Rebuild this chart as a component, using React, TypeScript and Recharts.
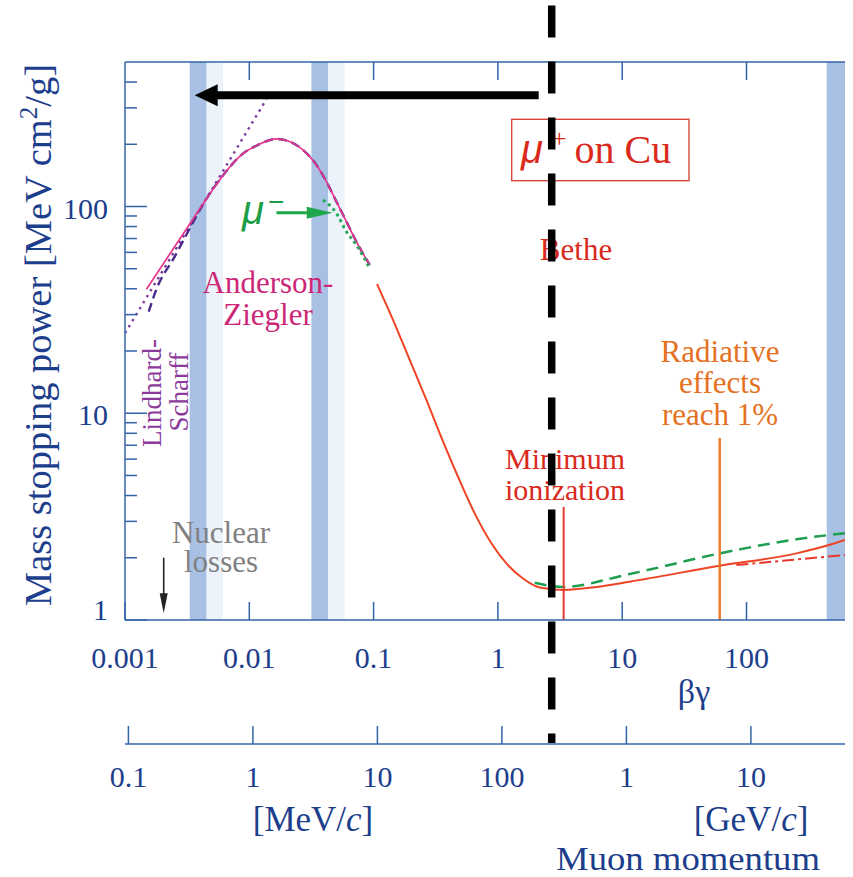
import React from "react";
import {
  LineChart,
  Line,
  XAxis,
  YAxis,
  ReferenceArea,
  ReferenceLine,
} from "recharts";

const W = 853;
const H = 877;
const SERIF = "'Liberation Serif', 'DejaVu Serif', serif";
const SANS = "'Liberation Sans', 'DejaVu Sans', sans-serif";
const AXIS = "#3464a8";
const TXT = "#1d3e8c";

// axis ticks
const bgTicks = [0.001, 0.01, 0.1, 1, 10, 100];
const bgTickLabels = ["0.001", "0.01", "0.1", "1", "10", "100"];
const topTicks = [0.01, 0.1, 1, 10, 100];
const momTicks = [0.1, 1, 10, 100, 1000, 10000]; // MeV/c
const momTickLabels = ["0.1", "1", "10", "100", "1", "10"];
const yTicks = [
  1, 2, 3, 4, 5, 6, 7, 8, 9, 10, 20, 30, 40, 50, 60, 70, 80, 90, 100, 200,
  300, 400,
];
const yMajor = [1, 10, 100];

// shaded bands (βγ ranges)
const bandDark = [
  [0.003316, 0.004518],
  [0.0316, 0.043],
  [441.6, 620],
];
const bandLight = [
  [0.004518, 0.00614],
  [0.043, 0.0586],
];

// Bethe (μ+ on Cu)
const betheBG = [
  0.1065, 0.1433, 0.1952, 0.266, 0.3577, 0.4775, 0.6506, 0.8866, 1.171, 1.592,
  2.169, 3.34, 6.2, 11.49, 60.9, 252, 467, 620,
];
const betheVal = [
  42.2, 28.3, 18.1, 11.6, 7.43, 4.93, 3.28, 2.35, 1.877, 1.588, 1.436, 1.397,
  1.445, 1.532, 1.831, 2.1, 2.31, 2.44,
];

// Anderson-Ziegler
const azBG = [
  0.001487, 0.002217, 0.003211, 0.004652, 0.006341, 0.008637, 0.01175, 0.01652,
  0.02113, 0.02704, 0.03466, 0.04173, 0.05022, 0.06044, 0.07271, 0.09303,
];
const azVal = [
  39.8, 57.2, 79.9, 111.7, 144.9, 177.7, 198.6, 212.3, 206.1, 187.8, 158.9,
  131.9, 105.6, 84.5, 67.6, 52.2,
];

// dashed purple fit
const fitBG = [
  0.001551, 0.001789, 0.002511, 0.003377, 0.004218, 0.006341, 0.008637,
  0.01175, 0.01652, 0.02113, 0.02704, 0.03466, 0.04173, 0.05022, 0.06044,
  0.07271, 0.09303,
];
const fitVal = [
  31.0, 39.8, 57.2, 79.9, 101.8, 144.9, 177.7, 198.6, 212.3, 206.1, 187.8,
  158.9, 131.9, 105.6, 84.5, 67.6, 52.2,
];

// Lindhard-Scharff (dotted)
const lsBG = [0.001, 0.01373];
const lsVal = [24.4, 330.4];

// μ- (green dotted)
const muBG = [0.0392, 0.05022, 0.06044, 0.07271, 0.093];
const muVal = [107.6, 92.8, 75.6, 65.2, 50.3];

// without δ (green dashed)
const noDeltaBG = [1.977, 3.3, 11.49, 60.9, 252, 620];
const noDeltaVal = [1.515, 1.445, 1.669, 2.1, 2.457, 2.63];

// red dash-dot
const dashDotBG = [82.9, 620];
const dashDotVal = [1.845, 2.063];

// markers
const minIon = { x: 3.38, top: 3.52 };
const radiative = { x: 60.9, top: 7.6 };
const blackLineX = 2.709;
const blackLineY = [937.6, 0.254];
const bigArrow = { from: 2.129, to: 0.003637, y: 344.8 };
const muArrow = { from: 0.01652, to: 0.0469, y: 93.4 };
const nuclearArrow = { x: 0.002048, from: 2.0, to: 1.077 };

const toPts = (xs: number[], ys: number[]) =>
  xs.map((x, i) => ({ x, y: ys[i] }));

// invisible anchors so the extra axes get their ticks
const momAnchor = momTicks.map((x) => ({ x, y: 1 }));
const topAnchor = topTicks.map((x) => ({ x, y: 1 }));

const near = (a: number, b: number) => Math.abs(a - b) / b < 1e-6;

const BgTick = (props: any) => {
  const { x, y, payload } = props;
  const i = bgTicks.findIndex((t) => near(payload.value, t));
  return (
    <g>
      <line x1={x} x2={x} y1={y} y2={y - 18} stroke={AXIS} strokeWidth={1.5} />
      <text x={x} y={y + 48} textAnchor="middle" fontSize={30} fill={TXT} fontFamily={SERIF}>
        {bgTickLabels[i]}
      </text>
    </g>
  );
};

const MomTick = (props: any) => {
  const { x, y, payload } = props;
  const i = momTicks.findIndex((t) => near(payload.value, t));
  return (
    <g>
      <line x1={x} x2={x} y1={y} y2={y - 18} stroke={AXIS} strokeWidth={1.5} />
      <text x={x} y={y + 43} textAnchor="middle" fontSize={30} fill={TXT} fontFamily={SERIF}>
        {momTickLabels[i]}
      </text>
    </g>
  );
};

const TopTick = (props: any) => {
  const { x, y } = props;
  return <line x1={x} x2={x} y1={y} y2={y + 18} stroke={AXIS} strokeWidth={1.5} />;
};

const VTick = (props: any) => {
  const { x, y, payload } = props;
  const v = payload.value;
  const major = yMajor.some((m) => near(v, m));
  return (
    <g>
      <line x1={x} x2={x + (major ? 22 : 12)} y1={y} y2={y} stroke={AXIS} strokeWidth={1.5} />
      {major && (
        <text
          x={x - 17}
          y={y + (near(v, 1) ? 0 : 12)}
          textAnchor="end"
          fontSize={30}
          fill={TXT}
          fontFamily={SERIF}
        >
          {v}
        </text>
      )}
    </g>
  );
};

const axes = (show: boolean) => [
  <XAxis
    key="bg"
    xAxisId="bg"
    dataKey="x"
    type="number"
    scale="log"
    domain={[0.001, 620]}
    allowDataOverflow
    ticks={bgTicks}
    interval={0}
    height={124}
    tickSize={0}
    tickMargin={0}
    tickLine={false}
    axisLine={show ? { stroke: AXIS, strokeWidth: 1.5 } : false}
    tick={show ? BgTick : false}
  />,
  <XAxis
    key="mom"
    xAxisId="mom"
    dataKey="x"
    type="number"
    scale="log"
    domain={[0.0939, 57000]}
    allowDataOverflow
    ticks={momTicks}
    interval={0}
    height={133}
    tickSize={0}
    tickMargin={0}
    tickLine={false}
    axisLine={show ? { stroke: AXIS, strokeWidth: 1.5 } : false}
    tick={show ? MomTick : false}
  />,
  <XAxis
    key="top"
    xAxisId="top"
    dataKey="x"
    orientation="top"
    type="number"
    scale="log"
    domain={[0.001, 620]}
    allowDataOverflow
    ticks={topTicks}
    interval={0}
    height={62}
    tickSize={0}
    tickMargin={0}
    tickLine={false}
    axisLine={show ? { stroke: AXIS, strokeWidth: 1.5 } : false}
    tick={show ? TopTick : false}
  />,
  <YAxis
    key="v"
    yAxisId="v"
    type="number"
    scale="log"
    domain={[1, 500]}
    allowDataOverflow
    ticks={yTicks}
    interval={0}
    width={125}
    tickSize={0}
    tickMargin={0}
    tickLine={false}
    axisLine={show ? { stroke: AXIS, strokeWidth: 1.5 } : false}
    tick={show ? VTick : false}
  />,
  <Line key="am" xAxisId="mom" yAxisId="v" data={momAnchor} dataKey="y" stroke="none" dot={false} activeDot={false} isAnimationActive={false} />,
  <Line key="at" xAxisId="top" yAxisId="v" data={topAnchor} dataKey="y" stroke="none" dot={false} activeDot={false} isAnimationActive={false} />,
];

const arrowShape =
  (color: string, width: number, headLen: number, headHalf: number) =>
  (p: any) => {
    const { x1, y1, x2, y2 } = p;
    const dx = x2 - x1;
    const dy = y2 - y1;
    const len = Math.hypot(dx, dy) || 1;
    const ux = dx / len;
    const uy = dy / len;
    const bx = x2 - ux * headLen;
    const by = y2 - uy * headLen;
    return (
      <g>
        <line
          x1={x1}
          y1={y1}
          x2={x2 - ux * headLen * 0.8}
          y2={y2 - uy * headLen * 0.8}
          stroke={color}
          strokeWidth={width}
        />
        <polygon
          points={`${x2},${y2} ${bx - uy * headHalf},${by + ux * headHalf} ${bx + uy * headHalf},${by - ux * headHalf}`}
          fill={color}
        />
      </g>
    );
  };

const dashedBlack = (p: any) => (
  <line
    x1={p.x1}
    y1={p.y1}
    x2={p.x2}
    y2={p.y2}
    stroke="#000"
    strokeWidth={7.5}
    strokeDasharray="32 24"
  />
);

const ids = { xAxisId: "bg", yAxisId: "v" } as const;

export default function App() {
  return (
    <div style={{ position: "absolute", left: 0, top: 0, width: W, height: H, background: "#fff" }}>
      <div style={{ position: "absolute", left: 0, top: 0 }}>
        <LineChart width={W} height={H} margin={{ top: 0, right: 8, bottom: 0, left: 0 }}>
          {axes(true)}
          {bandLight.map(([a, b], i) => (
            <ReferenceArea key={`l${i}`} {...ids} x1={a} x2={b} fill="#edf3fb" fillOpacity={1} stroke="none" />
          ))}
          {bandDark.map(([a, b], i) => (
            <ReferenceArea key={`d${i}`} {...ids} x1={a} x2={b} fill="#a8c0e4" fillOpacity={1} stroke="none" />
          ))}
          <Line {...ids} data={toPts(lsBG, lsVal)} dataKey="y" type="linear" stroke="#7b3a9e" strokeWidth={2.4} strokeDasharray="2.5 4.5" dot={false} isAnimationActive={false} />
          <Line {...ids} data={toPts(fitBG, fitVal)} dataKey="y" type="monotone" stroke="#4a2a8c" strokeWidth={2.4} strokeDasharray="9 5" dot={false} isAnimationActive={false} />
          <Line {...ids} data={toPts(azBG, azVal)} dataKey="y" type="monotone" stroke="#e8378c" strokeWidth={1.7} dot={false} isAnimationActive={false} />
          <Line {...ids} data={toPts(muBG, muVal)} dataKey="y" type="monotone" stroke="#2aa85a" strokeWidth={3} strokeDasharray="3 3.5" dot={false} isAnimationActive={false} />
          <Line {...ids} data={toPts(betheBG, betheVal)} dataKey="y" type="monotone" stroke="#ee4324" strokeWidth={2} dot={false} isAnimationActive={false} />
          <Line {...ids} data={toPts(noDeltaBG, noDeltaVal)} dataKey="y" type="monotone" stroke="#1f9e50" strokeWidth={2.5} strokeDasharray="12 7" dot={false} isAnimationActive={false} />
          <Line {...ids} data={toPts(dashDotBG, dashDotVal)} dataKey="y" type="linear" stroke="#e8362a" strokeWidth={2} strokeDasharray="12 4 3 4" dot={false} isAnimationActive={false} />
          <ReferenceLine {...ids} ifOverflow="visible" segment={[{ x: minIon.x, y: 1 }, { x: minIon.x, y: minIon.top }]} stroke="#e63a2e" strokeWidth={2} />
          <ReferenceLine {...ids} ifOverflow="visible" segment={[{ x: radiative.x, y: 1 }, { x: radiative.x, y: radiative.top }]} stroke="#ec7826" strokeWidth={2.4} />
        </LineChart>
      </div>

      <svg width={W} height={H} style={{ position: "absolute", left: 0, top: 0 }} fontFamily={SERIF}>
        <text transform="translate(51,335) rotate(-90)" textAnchor="middle" fontSize={38.5} fill={TXT}>
          Mass stopping power [MeV cm<tspan dy={-14} fontSize={25}>2</tspan>
          <tspan dy={14}>/g]</tspan>
        </text>
        <text x={694} y={703} textAnchor="middle" fontSize={34} fill={TXT}>βγ</text>
        <text x={313} y={831} textAnchor="middle" fontSize={35} fill={TXT}>
          [MeV/<tspan fontStyle="italic">c</tspan>]
        </text>
        <text x={751} y={831} textAnchor="middle" fontSize={35} fill={TXT}>
          [GeV/<tspan fontStyle="italic">c</tspan>]
        </text>
        <text x={688} y={870} textAnchor="middle" fontSize={34} fill={TXT} textLength={264} lengthAdjust="spacingAndGlyphs">
          Muon momentum
        </text>

        <rect x={511.7} y={119.3} width={177.3} height={61.4} fill="none" stroke="#d9463a" strokeWidth={1.4} />
        <text x={521} y={163} fontSize={40} fill="#d92a1c">
          <tspan fontFamily={SANS} fontStyle="italic">μ</tspan>
          <tspan fontSize={26} dy={-16} dx={9}>+</tspan>
          <tspan dy={16} dx={-2}> on Cu</tspan>
        </text>
        <text x={576} y={260} textAnchor="middle" fontSize={31} fill="#d92a1c">Bethe</text>

        <g fontSize={31} fill="#e5711f" textAnchor="middle">
          <text x={720} y={362}>Radiative</text>
          <text x={720} y={393}>effects</text>
          <text x={720} y={425}>reach 1%</text>
        </g>
        <g fontSize={30} fill="#d92a1c" textAnchor="middle">
          <text x={565} y={469}>Minimum</text>
          <text x={565} y={500}>ionization</text>
        </g>
        <g fontSize={31} fill="#cc2777" textAnchor="middle">
          <text x={268} y={293}>Anderson-</text>
          <text x={268} y={325}>Ziegler</text>
        </g>
        <text x={242} y={224} fontSize={40} fill="#1d9e48" fontFamily={SANS} fontStyle="italic">μ</text>
        <text x={268} y={211} fontSize={28} fill="#1d9e48" fontFamily={SANS}>−</text>
        <g fontSize={27} fill="#8b3a9c" textAnchor="middle">
          <text transform="translate(161,393) rotate(-90)">Lindhard-</text>
          <text transform="translate(188,392) rotate(-90)">Scharff</text>
        </g>
        <g fontSize={31} fill="#808080" textAnchor="middle">
          <text x={221} y={543}>Nuclear</text>
          <text x={221} y={572}>losses</text>
        </g>
      </svg>

      <div style={{ position: "absolute", left: 0, top: 0 }}>
        <LineChart width={W} height={H} margin={{ top: 0, right: 8, bottom: 0, left: 0 }}>
          {axes(false)}
          <ReferenceLine {...ids} ifOverflow="visible" segment={[{ x: blackLineX, y: blackLineY[0] }, { x: blackLineX, y: blackLineY[1] }]} shape={dashedBlack} />
          <ReferenceLine {...ids} ifOverflow="visible" segment={[{ x: bigArrow.from, y: bigArrow.y }, { x: bigArrow.to, y: bigArrow.y }]} shape={arrowShape("#000", 8, 23, 11)} />
          <ReferenceLine {...ids} ifOverflow="visible" segment={[{ x: muArrow.from, y: muArrow.y }, { x: muArrow.to, y: muArrow.y }]} shape={arrowShape("#1fa64a", 3, 26, 6)} />
          <ReferenceLine {...ids} ifOverflow="visible" segment={[{ x: nuclearArrow.x, y: nuclearArrow.from }, { x: nuclearArrow.x, y: nuclearArrow.to }]} shape={arrowShape("#222", 1.6, 20, 4)} />
        </LineChart>
      </div>
    </div>
  );
}
